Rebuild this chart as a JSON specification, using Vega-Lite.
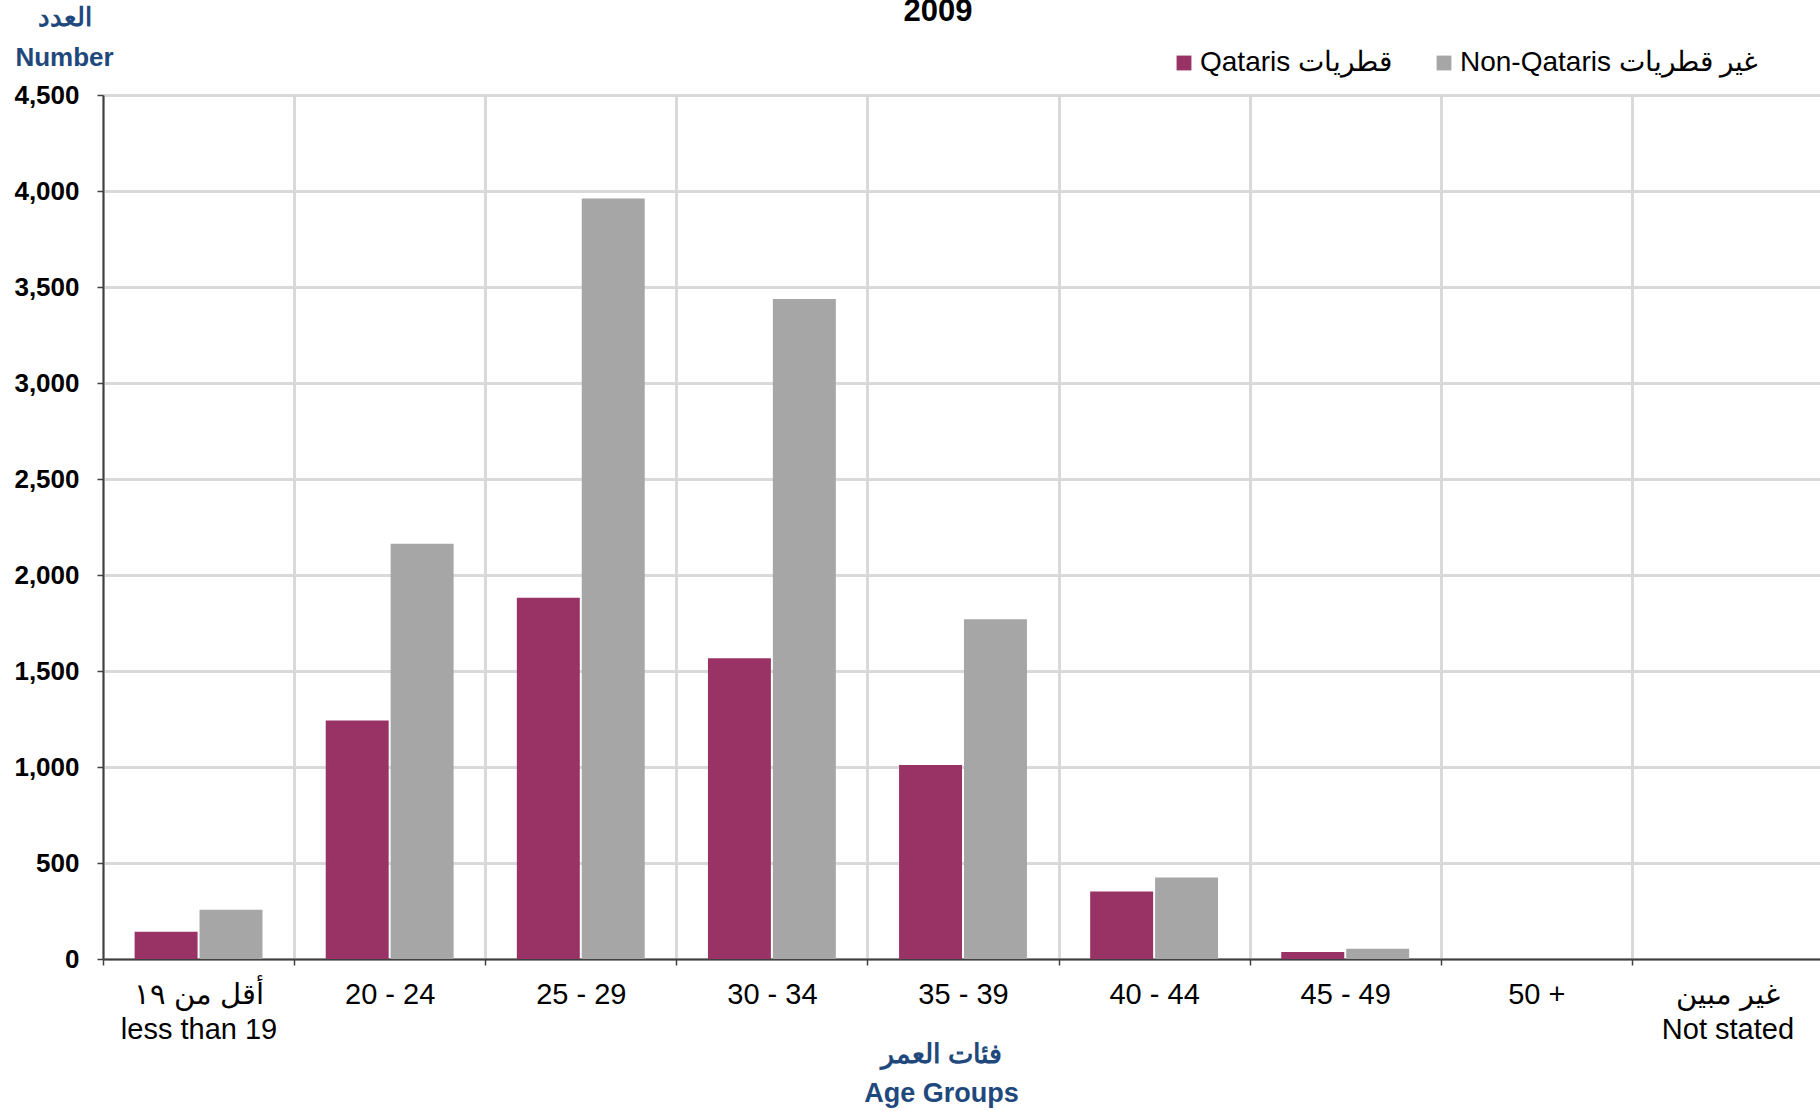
{
  "$schema": "https://vega.github.io/schema/vega-lite/v6.json",
  "width": 1720,
  "height": 864,
  "autosize": {"type": "none"},
  "padding": {"left": 103, "top": 95, "right": 0, "bottom": 152},
  "config": {"font": "Liberation Sans", "view": {"stroke": null}},
  "title": {
    "text": "2009",
    "fontSize": 31,
    "fontWeight": "bold",
    "color": "#000000",
    "anchor": "middle",
    "frame": "group",
    "baseline": "alphabetic",
    "offset": 0,
    "dx": -25,
    "dy": 48
  },
  "data": {
    "values": [
      {"age": "less than 19", "group": "Qataris قطريات", "value": 142},
      {"age": "less than 19", "group": "Non-Qataris غير قطريات", "value": 257},
      {"age": "20 - 24", "group": "Qataris قطريات", "value": 1242},
      {"age": "20 - 24", "group": "Non-Qataris غير قطريات", "value": 2163},
      {"age": "25 - 29", "group": "Qataris قطريات", "value": 1882},
      {"age": "25 - 29", "group": "Non-Qataris غير قطريات", "value": 3961},
      {"age": "30 - 34", "group": "Qataris قطريات", "value": 1566},
      {"age": "30 - 34", "group": "Non-Qataris غير قطريات", "value": 3437},
      {"age": "35 - 39", "group": "Qataris قطريات", "value": 1011},
      {"age": "35 - 39", "group": "Non-Qataris غير قطريات", "value": 1770},
      {"age": "40 - 44", "group": "Qataris قطريات", "value": 352},
      {"age": "40 - 44", "group": "Non-Qataris غير قطريات", "value": 425},
      {"age": "45 - 49", "group": "Qataris قطريات", "value": 36},
      {"age": "45 - 49", "group": "Non-Qataris غير قطريات", "value": 54},
      {"age": "50 +", "group": "Qataris قطريات", "value": 0},
      {"age": "50 +", "group": "Non-Qataris غير قطريات", "value": 0},
      {"age": "Not stated", "group": "Qataris قطريات", "value": 0},
      {"age": "Not stated", "group": "Non-Qataris غير قطريات", "value": 0}
    ]
  },
  "mark": {"type": "bar"},
  "encoding": {
    "x": {
      "field": "age",
      "type": "nominal",
      "sort": null,
      "scale": {"paddingInner": 0, "paddingOuter": 0},
      "axis": {
        "title": ["فئات العمر", "Age Groups"],
        "titleFontSize": 27,
        "titleFontWeight": "bold",
        "titleColor": "#1F497D",
        "titleAlign": "center",
        "titleBaseline": "alphabetic",
        "titleX": 838,
        "titleY": 103,
        "titleLineHeight": 39,
        "labelAngle": 0,
        "labelFontSize": 29,
        "labelColor": "#000000",
        "labelBaseline": "alphabetic",
        "labelPadding": 38,
        "labelLineHeight": 35,
        "labelExpr": "datum.value == 'less than 19' ? ['أقل من ١٩', 'less than 19'] : datum.value == 'Not stated' ? ['غير مبين', 'Not stated'] : datum.label",
        "tickBand": "extent",
        "grid": true,
        "gridColor": "#D9D9D9",
        "gridWidth": 3,
        "tickSize": 6,
        "tickColor": "#404040",
        "tickWidth": 1.5,
        "domainColor": "#404040",
        "domainWidth": 2
      }
    },
    "xOffset": {
      "field": "group",
      "type": "nominal",
      "scale": {"domain": ["Qataris قطريات", "Non-Qataris غير قطريات"], "paddingInner": 0.03, "paddingOuter": 0.487}
    },
    "y": {
      "field": "value",
      "type": "quantitative",
      "scale": {"domain": [0, 4500], "nice": false},
      "axis": {
        "values": [0, 500, 1000, 1500, 2000, 2500, 3000, 3500, 4000, 4500],
        "format": ",.0f",
        "title": ["العدد", "Number"],
        "titleFontSize": 26,
        "titleFontWeight": "bold",
        "titleColor": "#1F497D",
        "titleAngle": 0,
        "titleAlign": "center",
        "titleBaseline": "alphabetic",
        "titleX": -39,
        "titleY": -70,
        "titleLineHeight": 40,
        "labelFontSize": 26,
        "labelFontWeight": "bold",
        "labelColor": "#000000",
        "labelPadding": 18,
        "grid": true,
        "gridColor": "#D9D9D9",
        "gridWidth": 3,
        "tickSize": 6,
        "tickColor": "#404040",
        "tickWidth": 1.5,
        "domainColor": "#404040",
        "domainWidth": 2
      }
    },
    "color": {
      "field": "group",
      "type": "nominal",
      "scale": {"domain": ["Qataris قطريات", "Non-Qataris غير قطريات"], "range": ["#993366", "#A6A6A6"]},
      "legend": {
        "title": null,
        "orient": "none",
        "direction": "horizontal",
        "legendX": 1067,
        "legendY": -46,
        "symbolType": "square",
        "symbolSize": 220,
        "symbolStrokeWidth": 0,
        "labelFontSize": 28,
        "labelLimit": 500,
        "labelColor": "#000000",
        "labelOffset": 2,
        "columnPadding": 37
      }
    }
  }
}
